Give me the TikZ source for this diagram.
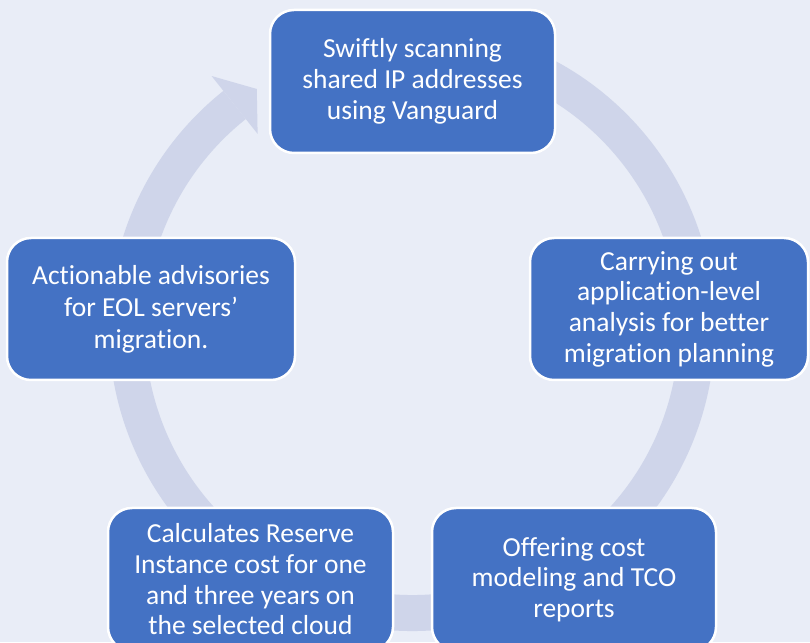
\documentclass[tikz,border=0pt]{standalone}
\usepackage{fontspec}
\setmainfont{Carlito}[Ligatures={NoCommon,NoRequired,NoContextual}]
\definecolor{bg}{HTML}{E9EDF7}
\definecolor{ringc}{HTML}{CFD5EA}
\definecolor{boxblue}{HTML}{4472C4}
\begin{document}
\begin{tikzpicture}[x=1pt,y=1pt,
  stepbox/.style={draw=white, line width=2.5pt, fill=boxblue, rounded corners=24pt,
    text=white, align=center, font=\fontsize{27.5}{30.7}\selectfont, inner sep=0pt,
    minimum height=143pt}]
\fill[bg] (0,0) rectangle (810,642);
\useasboundingbox (0,0) rectangle (810,642);
\coordinate (c) at (412,314);
% circular arrow ring
\draw[ringc, line width=36pt] ([shift={(80:285pt)}]c) arc[start angle=80, end angle=-231.5, radius=285pt];
\fill[ringc] ([shift={(128.5:322pt)}]c) -- ([shift={(123:285pt)}]c) -- ([shift={(128.5:248pt)}]c) -- cycle;
% boxes
\node[stepbox, minimum width=285pt] (n1) at (412.5,560.5) {Swiftly scanning\\shared IP addresses\\using Vanguard};
\node[stepbox, minimum width=278pt, minimum height=142pt] (n2) at (669,333) {Carrying out\\application-level\\analysis for better\\migration planning};
\node[stepbox, minimum width=284pt] (n3) at (574,62.5) {Offering cost\\modeling and TCO\\reports};
\node[stepbox, minimum width=285pt] (n4) at (250.5,62.5) {Calculates Reserve\\Instance cost for one\\and three years on\\the selected cloud};
\node[stepbox, minimum width=288pt, minimum height=142pt, font=\fontsize{27.5}{32}\selectfont] (n5) at (151,333) {Actionable advisories\\for EOL servers’\\migration.};
\end{tikzpicture}
\end{document}
